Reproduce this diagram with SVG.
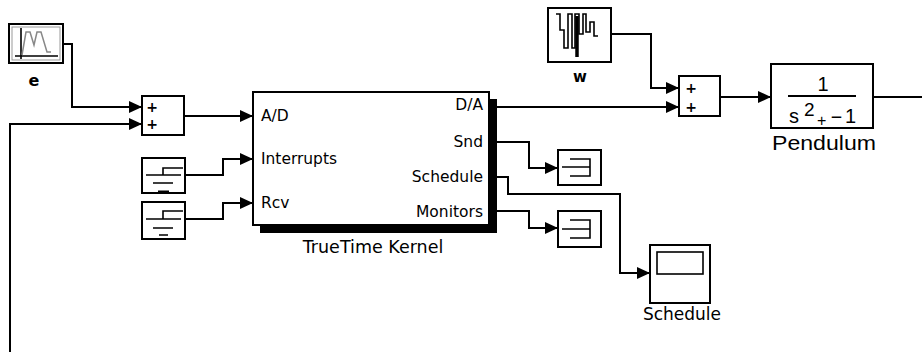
<svg xmlns="http://www.w3.org/2000/svg" width="922" height="352" viewBox="0 0 922 352">
<style>
.blk{fill:#fff;stroke:#000;stroke-width:2}
.ln{fill:none;stroke:#000;stroke-width:2}
.thin{fill:none;stroke:#000;stroke-width:1.6}
.arr{fill:none;stroke:#000;stroke-width:2;marker-end:url(#ah)}
.port{font-family:"DejaVu Sans",sans-serif;font-size:15.5px;fill:#000}
.lbl{font-family:"DejaVu Sans",sans-serif;fill:#000}
.pl{font-family:"Liberation Sans",sans-serif;fill:#000}
</style>
<defs>
<marker id="ah" markerUnits="userSpaceOnUse" markerWidth="14" markerHeight="12" refX="13" refY="6" orient="auto">
<path d="M0,0 L13,6 L0,12 z" fill="#000"/>
</marker>
</defs>
<rect width="922" height="352" fill="#fff"/>
<g id="connectors">
<path class="arr" d="M63,44 H72 V107 H142"/>
<path class="arr" d="M10,352 V124 H142"/>
<path class="arr" d="M184,116 H253"/>
<path class="arr" d="M185,175 H223 V159 H253"/>
<path class="arr" d="M185,219 H223 V203 H253"/>
<path class="arr" d="M497,107 H679"/>
<path class="arr" d="M611,34 H651 V88 H679"/>
<path class="arr" d="M720,97 H771"/>
<path class="ln" d="M873,97 H922"/>
<path class="arr" d="M497,142 H529 V168 H558"/>
<path class="arr" d="M497,177 H508 V194 H620 V273 H650"/>
<path class="arr" d="M497,211 H529 V228 H558"/>
</g>
<g id="e">
<rect class="blk" x="9" y="24" width="54" height="39"/>
<rect x="12" y="27" width="48" height="33" fill="none" stroke="#999" stroke-width="1"/>
<path class="thin" d="M21,28 V59 M15,56 H58"/>
<polyline fill="none" stroke="#888" stroke-width="1.5" points="22,55 26,32 30,32 34,45 37,32 41,32 47,52 51,52"/>
<text class="lbl" x="34" y="86" font-size="16" font-weight="bold" text-anchor="middle">e</text>
</g>
<g id="sum1">
<rect class="blk" x="142" y="96" width="42" height="39"/>
<text class="lbl" x="152" y="112" font-size="14" font-weight="bold" text-anchor="middle">+</text>
<text class="lbl" x="152" y="129" font-size="14" font-weight="bold" text-anchor="middle">+</text>
</g>
<g id="step1">
<rect class="blk" x="142" y="158" width="43" height="35"/>
<path class="thin" d="M146,175 H181 M163,175 V168 H183 M153,183 H173"/>
<path d="M158,192 H169" stroke="#000" stroke-width="3"/>
</g>
<g id="step2">
<rect class="blk" x="142" y="202" width="43" height="37"/>
<path class="thin" d="M146,219 H181 M163,219 V211 H183 M153,228 H173 M159,235 H168"/>
</g>
<g id="kernel">
<rect x="260" y="99" width="237" height="134" fill="#000"/>
<rect class="blk" x="253" y="92" width="236" height="133"/>
<text class="port" x="261" y="121">A/D</text>
<text class="port" x="261" y="164" textLength="76" lengthAdjust="spacingAndGlyphs">Interrupts</text>
<text class="port" x="261" y="208">Rcv</text>
<text class="port" x="483" y="110" text-anchor="end">D/A</text>
<text class="port" x="483" y="147" text-anchor="end">Snd</text>
<text class="port" x="483" y="182" text-anchor="end">Schedule</text>
<text class="port" x="483" y="217" text-anchor="end">Monitors</text>
<text class="lbl" x="373" y="253" font-size="17.5" text-anchor="middle">TrueTime Kernel</text>
</g>
<g id="w">
<rect class="blk" x="548" y="8" width="63" height="54"/>
<polyline fill="none" stroke="#000" stroke-width="1.6" points="556,14 560,14 560,30 564,30 564,48 568,48 568,14 572,14 572,48 575,48 575,14 579,14 579,34 583,34 583,14 586,14 586,32 590,32 590,22 594,22 594,36 598,36"/>
<path d="M577,16 V57" stroke="#000" stroke-width="3.5"/>
<text class="lbl" x="580" y="82" font-size="15" font-weight="bold" text-anchor="middle">w</text>
</g>
<g id="sum2">
<rect class="blk" x="679" y="76" width="41" height="40"/>
<text class="lbl" x="691" y="93" font-size="14" font-weight="bold" text-anchor="middle">+</text>
<text class="lbl" x="691" y="112" font-size="14" font-weight="bold" text-anchor="middle">+</text>
</g>
<g id="pendulum">
<rect class="blk" x="771" y="64" width="102" height="64"/>
<text class="pl" x="823" y="91" font-size="20" text-anchor="middle">1</text>
<path class="ln" d="M788,96 H856"/>
<text class="pl" y="123" font-size="20"><tspan x="789">s</tspan><tspan x="804" y="116" font-size="19">2</tspan><tspan x="817" y="126" font-size="16">+</tspan><tspan x="830" y="123" font-size="20" textLength="13" lengthAdjust="spacingAndGlyphs">-</tspan><tspan x="845" y="123" font-size="20">1</tspan></text>
<text class="pl" x="824" y="150" font-size="20" text-anchor="middle" textLength="104" lengthAdjust="spacingAndGlyphs">Pendulum</text>
</g>
<g id="display1">
<rect class="blk" x="558" y="150" width="43" height="35"/>
<path class="thin" d="M570,159 H590 V176 H570 M562,167 H590"/>
</g>
<g id="display2">
<rect class="blk" x="558" y="211" width="43" height="36"/>
<path class="thin" d="M570,220 H590 V238 H570 M562,229 H590"/>
</g>
<g id="scope">
<rect class="blk" x="650" y="245" width="60" height="58"/>
<rect class="thin" x="657" y="252" width="46" height="22"/>
<text class="lbl" x="682" y="320" font-size="17" text-anchor="middle">Schedule</text>
</g>
</svg>
